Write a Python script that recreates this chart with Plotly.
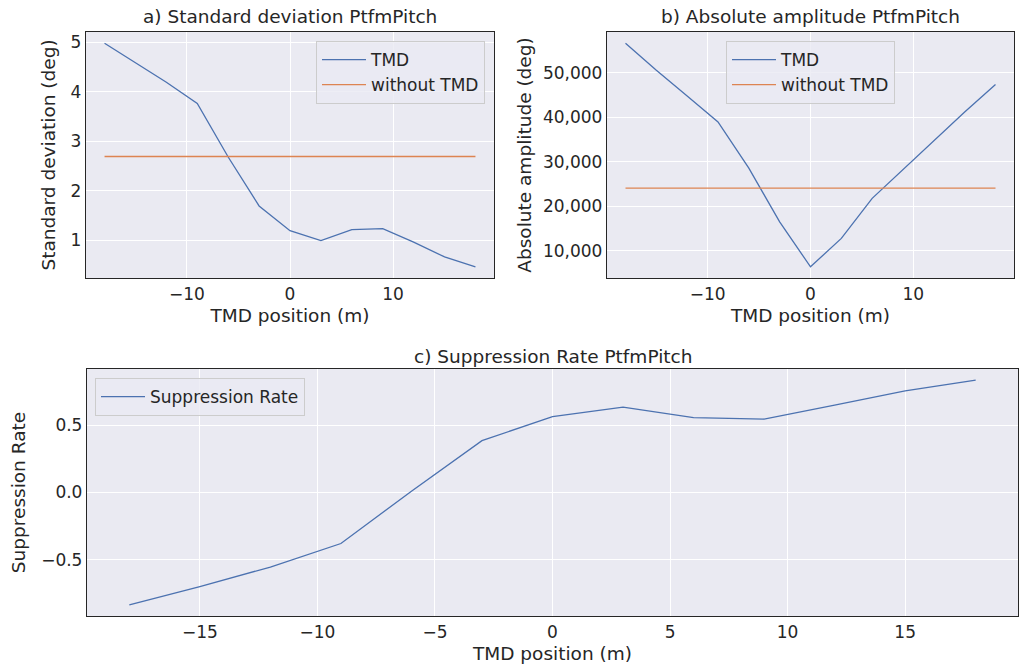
import plotly.graph_objects as go

positions = [-18, -15, -12, -9, -6, -3, 0, 3, 6, 9, 12, 15, 18]
std_tmd = [4.98, 4.58, 4.19, 3.76, 2.68, 1.69, 1.19, 0.99, 1.21, 1.23, 0.96, 0.66, 0.46]
std_without = [2.69] * len(positions)
amp_tmd = [56700, 50600, 44800, 39000, 28600, 16500, 6400, 12800, 21800, 28300, 34800, 41200, 47400]
amp_without = [24100] * len(positions)
suppression = [-0.836, -0.70, -0.555, -0.38, 0.01, 0.386, 0.565, 0.635, 0.557, 0.547, 0.65, 0.756, 0.836]

BLUE = "#4C72B0"
ORANGE = "#DD8452"
BG = "#EAEAF2"
TXT = "#262626"
FONT = "DejaVu Sans"

W, H = 1020, 664

def px_x(a, b):
    return [a / W, b / W]

def px_y(top, bottom):
    return [1 - bottom / H, 1 - top / H]

fig = go.Figure()

fig.add_trace(go.Scatter(x=positions, y=std_tmd, mode="lines", name="TMD",
                         line=dict(color=BLUE, width=1.3), xaxis="x", yaxis="y", legend="legend"))
fig.add_trace(go.Scatter(x=positions, y=std_without, mode="lines", name="without TMD",
                         line=dict(color=ORANGE, width=1.3), xaxis="x", yaxis="y", legend="legend"))
fig.add_trace(go.Scatter(x=positions, y=amp_tmd, mode="lines", name="TMD",
                         line=dict(color=BLUE, width=1.3), xaxis="x2", yaxis="y2", legend="legend2"))
fig.add_trace(go.Scatter(x=positions, y=amp_without, mode="lines", name="without TMD",
                         line=dict(color=ORANGE, width=1.3), xaxis="x2", yaxis="y2", legend="legend2"))
fig.add_trace(go.Scatter(x=positions, y=suppression, mode="lines", name="Suppression Rate",
                         line=dict(color=BLUE, width=1.3), xaxis="x3", yaxis="y3", legend="legend3"))

axis_common = dict(showgrid=True, gridcolor="white", gridwidth=1, zeroline=False,
                   showline=True, mirror=True, linecolor=TXT, linewidth=1.3,
                   ticks="", tickfont=dict(family=FONT, size=17, color=TXT),
                   title_font=dict(family=FONT, size=18.5, color=TXT))

def span_range(vals):
    lo, hi = min(vals), max(vals)
    m = (hi - lo) * 0.05
    return [lo - m, hi + m]

xr = span_range(positions)

legend_common = dict(bgcolor="rgba(234,234,242,0.8)", bordercolor="#CCCCCC", borderwidth=1,
                     font=dict(family=FONT, size=17, color=TXT), itemwidth=44)

fig.update_layout(
    width=W, height=H,
    margin=dict(l=0, r=0, t=0, b=0),
    paper_bgcolor="white", plot_bgcolor=BG,
    font=dict(family=FONT, color=TXT),
    xaxis=dict(domain=px_x(86, 494), anchor="y", range=xr, tickvals=[-10, 0, 10],
               title=dict(text="TMD position (m)", standoff=6), **axis_common),
    yaxis=dict(domain=px_y(32, 278), anchor="x", range=span_range(std_tmd),
               tickvals=[1, 2, 3, 4, 5],
               title=dict(text="Standard deviation (deg)", standoff=10), **axis_common),
    xaxis2=dict(domain=px_x(607, 1014), anchor="y2", range=xr, tickvals=[-10, 0, 10],
                title=dict(text="TMD position (m)", standoff=6), **axis_common),
    yaxis2=dict(domain=px_y(32, 278), anchor="x2", range=span_range(amp_tmd),
                tickvals=[10000, 20000, 30000, 40000, 50000], tickformat=",d",
                title=dict(text="Absolute amplitude (deg)", standoff=6), **axis_common),
    xaxis3=dict(domain=px_x(87, 1018), anchor="y3", range=xr,
                tickvals=[-15, -10, -5, 0, 5, 10, 15],
                title=dict(text="TMD position (m)", standoff=6), **axis_common),
    yaxis3=dict(domain=px_y(369, 616), anchor="x3", range=span_range(suppression),
                tickvals=[-0.5, 0.0, 0.5], tickformat=".1f",
                title=dict(text="Suppression Rate", standoff=10), **axis_common),
    legend=dict(x=485 / W, y=1 - 41 / H, xanchor="right", yanchor="top", **legend_common),
    legend2=dict(x=726 / W, y=1 - 41 / H, xanchor="left", yanchor="top", **legend_common),
    legend3=dict(x=95 / W, y=1 - 378 / H, xanchor="left", yanchor="top", **legend_common),
    showlegend=True,
)

titles = [
    ("a) Standard deviation PtfmPitch", 290, 17),
    ("b) Absolute amplitude PtfmPitch", 810, 17),
    ("c) Suppression Rate PtfmPitch", 553, 356),
]
for text, cx, cy in titles:
    fig.add_annotation(text=text, x=cx / W, y=1 - cy / H, xref="paper", yref="paper",
                       xanchor="center", yanchor="middle", showarrow=False,
                       font=dict(family=FONT, size=18.5, color=TXT))

fig.write_html("out.html")
